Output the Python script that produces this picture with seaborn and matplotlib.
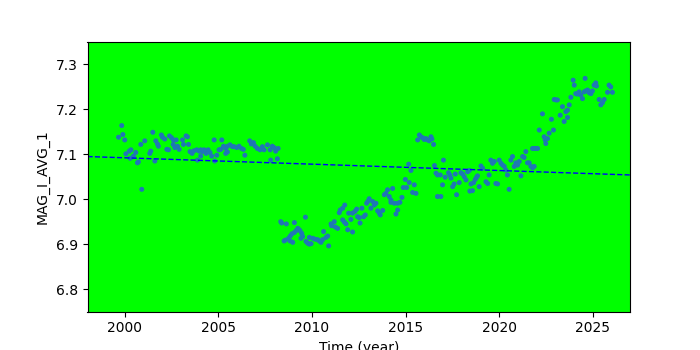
import matplotlib
matplotlib.use("Agg")
import matplotlib.pyplot as plt
import seaborn as sns
import pandas as pd

years = [
    1999.66, 1999.83, 1999.89, 1999.99, 2000.05, 2000.23, 2000.32, 2000.28, 2000.46, 2000.58,
    2000.67, 2000.72, 2000.85, 2000.90, 2001.06, 2001.33, 2001.38, 2001.49, 2001.60, 2001.65,
    2001.74, 2001.79, 2001.95, 2002.01, 2002.13, 2002.24, 2002.33, 2002.38, 2002.49, 2002.59,
    2002.58, 2002.67, 2002.81, 2002.90, 2002.74, 2003.08, 2003.13, 2003.27, 2003.34, 2003.40,
    2003.48, 2003.59, 2003.70, 2003.84, 2003.97, 2004.05, 2004.14, 2004.23, 2004.34, 2004.45,
    2004.55, 2003.88, 2004.05, 2004.64, 2004.77, 2004.80, 2004.91, 2005.03, 2005.12, 2005.18,
    2005.27, 2005.39, 2005.48, 2005.62, 2005.75, 2005.84, 2005.98, 2006.10, 2006.23, 2006.33,
    2005.39, 2005.48, 2006.41, 2006.67, 2006.76, 2006.87, 2006.96, 2007.08, 2007.22, 2007.35,
    2007.44, 2007.62, 2007.76, 2007.88, 2007.97, 2008.06, 2008.19, 2007.79, 2008.15, 2008.33,
    2008.38, 2008.63, 2008.51, 2008.58,
    2009.06, 2009.65, 2008.75, 2008.84, 2008.93, 2009.06, 2009.15, 2009.24, 2009.29, 2009.36,
    2009.45, 2009.50, 2009.41, 2008.83, 2008.97, 2009.68, 2009.77, 2009.86, 2009.95, 2009.86,
    2010.04, 2010.16, 2010.30, 2010.39, 2010.48, 2010.57, 2010.62, 2010.75, 2010.84, 2010.89,
    2011.02, 2011.05, 2011.19, 2011.25, 2011.37, 2011.46, 2011.51, 2011.64, 2011.75, 2011.64,
    2011.73, 2011.82, 2011.91, 2012.17, 2011.96, 2012.08, 2012.17, 2012.30, 2012.39, 2012.44,
    2012.53, 2012.57, 2012.67, 2012.76, 2012.85, 2012.92, 2012.98, 2013.06, 2013.15, 2013.24,
    2013.33, 2013.42, 2013.51, 2013.60, 2013.65, 2013.78, 2013.87, 2013.95, 2014.04, 2014.13,
    2014.22, 2014.31, 2014.22, 2014.40, 2014.58, 2014.70, 2014.81, 2014.49, 2014.58, 2014.88,
    2014.99, 2015.06, 2015.17, 2015.29, 2015.20, 2015.47, 2015.38, 2015.56, 2015.65, 2015.74,
    2015.82, 2015.91, 2016.00, 2016.09, 2016.18, 2016.27, 2016.36, 2016.41, 2016.50, 2016.55,
    2016.63, 2016.71, 2016.71,
    2017.03, 2016.86, 2016.89, 2016.98, 2017.12, 2017.30, 2017.37, 2017.43, 2017.52, 2017.60,
    2017.73, 2017.66, 2017.87, 2017.96, 2018.05, 2018.14, 2018.23, 2018.32, 2018.41, 2018.50,
    2018.44, 2018.58, 2018.64, 2018.73, 2018.80, 2018.85, 2018.94, 2019.03, 2019.12, 2019.30,
    2019.39, 2019.47, 2019.56, 2019.65, 2019.74, 2019.83, 2019.92, 2020.01, 2020.10, 2020.19,
    2020.28, 2020.36, 2020.45, 2020.54, 2020.63, 2020.72, 2020.81, 2020.90, 2020.99, 2021.08,
    2021.17, 2021.26, 2021.34, 2021.43, 2021.52, 2021.61, 2021.70, 2021.79, 2021.88, 2021.79,
    2021.88, 2021.97, 2022.06, 2022.15, 2022.32, 2022.41, 2022.47, 2022.50, 2022.59, 2022.68,
    2022.80, 2022.91, 2022.95, 2023.04, 2023.12, 2023.27, 2023.39, 2023.48, 2023.57, 2023.66,
    2023.66, 2023.75, 2023.84, 2023.96, 2024.02, 2024.10, 2024.19, 2024.28, 2024.37, 2024.46,
    2024.55, 2024.60, 2024.64, 2024.73, 2024.82, 2024.91, 2024.99, 2025.08, 2025.17, 2025.21,
    2025.35, 2025.44, 2025.53, 2025.62, 2025.80, 2025.88, 2025.97, 2026.06,
]

mags = [
    7.138, 7.164, 7.144, 7.132, 7.101, 7.107, 7.110, 7.091, 7.096, 7.104,
    7.081, 7.083, 7.122, 7.022, 7.130, 7.102, 7.107, 7.149, 7.085, 7.130,
    7.123, 7.118, 7.143, 7.138, 7.134, 7.111, 7.110, 7.141, 7.137, 7.132,
    7.122, 7.115, 7.118, 7.111, 7.132, 7.132, 7.122, 7.141, 7.139, 7.122,
    7.106, 7.102, 7.108, 7.110, 7.107, 7.110, 7.106, 7.110, 7.102, 7.110,
    7.104, 7.087, 7.096, 7.096, 7.132, 7.085, 7.098, 7.110, 7.111, 7.132,
    7.118, 7.113, 7.118, 7.121, 7.117, 7.117, 7.115, 7.118, 7.113, 7.111,
    7.102, 7.105, 7.098, 7.130, 7.123, 7.126, 7.118, 7.113, 7.110, 7.117,
    7.110, 7.121, 7.110, 7.118, 7.115, 7.107, 7.113, 7.087, 7.090, 6.950,
    6.947, 6.945, 6.907, 6.909,
    6.948, 6.960, 6.913, 6.918, 6.923, 6.926, 6.930, 6.935, 6.933, 6.930,
    6.924, 6.917, 6.913, 6.907, 6.904, 6.906, 6.902, 6.900, 6.901, 6.915,
    6.913, 6.911, 6.910, 6.907, 6.904, 6.910, 6.928, 6.915, 6.918, 6.896,
    6.945, 6.941, 6.950, 6.938, 6.935, 6.970, 6.976, 6.980, 6.987, 6.954,
    6.949, 6.945, 6.932, 6.927, 6.969, 6.955, 6.969, 6.973, 6.978, 6.961,
    6.959, 6.947, 6.980, 6.961, 6.965, 6.991, 6.995, 7.001, 6.980, 6.995,
    6.987, 6.991, 6.974, 6.969, 6.965, 6.975, 7.010, 7.013, 7.021, 7.006,
    6.998, 7.024, 6.993, 6.991, 6.991, 6.993, 7.004, 6.967, 6.976, 7.026,
    7.044, 7.026, 7.078, 7.064, 7.037, 7.032, 7.015, 7.013, 7.132, 7.143,
    7.139, 7.137, 7.133, 7.135, 7.132, 7.130, 7.139, 7.134, 7.122, 7.075,
    7.058, 7.054, 7.006,
    7.087, 7.054, 7.006, 7.032, 7.049, 7.059, 7.054, 7.047, 7.028, 7.034,
    7.010, 7.056, 7.037, 7.059, 7.056, 7.050, 7.043, 7.061, 7.064, 7.034,
    7.018, 7.019, 7.037, 7.044, 7.049, 7.052, 7.028, 7.074, 7.069, 7.039,
    7.035, 7.054, 7.087, 7.080, 7.084, 7.035, 7.034, 7.087, 7.080, 7.076,
    7.073, 7.065, 7.054, 7.022, 7.087, 7.095, 7.073, 7.081, 7.076, 7.084,
    7.052, 7.095, 7.093, 7.106, 7.081, 7.081, 7.073, 7.070, 7.073, 7.113,
    7.113, 7.113, 7.113, 7.154, 7.190, 7.139, 7.132, 7.124, 7.135, 7.147,
    7.178, 7.154, 7.222, 7.221, 7.221, 7.187, 7.206, 7.173, 7.195, 7.198,
    7.182, 7.210, 7.227, 7.265, 7.254, 7.235, 7.234, 7.239, 7.232, 7.224,
    7.239, 7.269, 7.241, 7.243, 7.237, 7.235, 7.241, 7.254, 7.259, 7.252,
    7.222, 7.210, 7.215, 7.222, 7.238, 7.254, 7.250, 7.238,
]

trend_years = [1998.0, 2027.0]
trend_mags = [7.095, 7.054]

x_ticks = [2000, 2005, 2010, 2015, 2020, 2025]
y_ticks = [6.8, 6.9, 7.0, 7.1, 7.2, 7.3]

df = pd.DataFrame({"year": years, "mag": mags})
trend = pd.DataFrame({"year": trend_years, "mag": trend_mags})

fig, ax = plt.subplots(figsize=(7, 3.5), dpi=100)
ax.set_facecolor("#00ff00")

sns.scatterplot(data=df, x="year", y="mag", ax=ax, s=13, color="#1f77b4",
                edgecolor="none", linewidth=0)
sns.lineplot(data=trend, x="year", y="mag", ax=ax, color="blue",
             linestyle="--", linewidth=1)

ax.set_xlim(1998, 2027)
ax.set_ylim(6.75, 7.35)
ax.set_xticks(x_ticks)
ax.set_yticks(y_ticks)
ax.set_xlabel("Time (year)")
ax.set_ylabel("MAG_I_AVG_1")

fig.savefig("out.png", dpi=100)
